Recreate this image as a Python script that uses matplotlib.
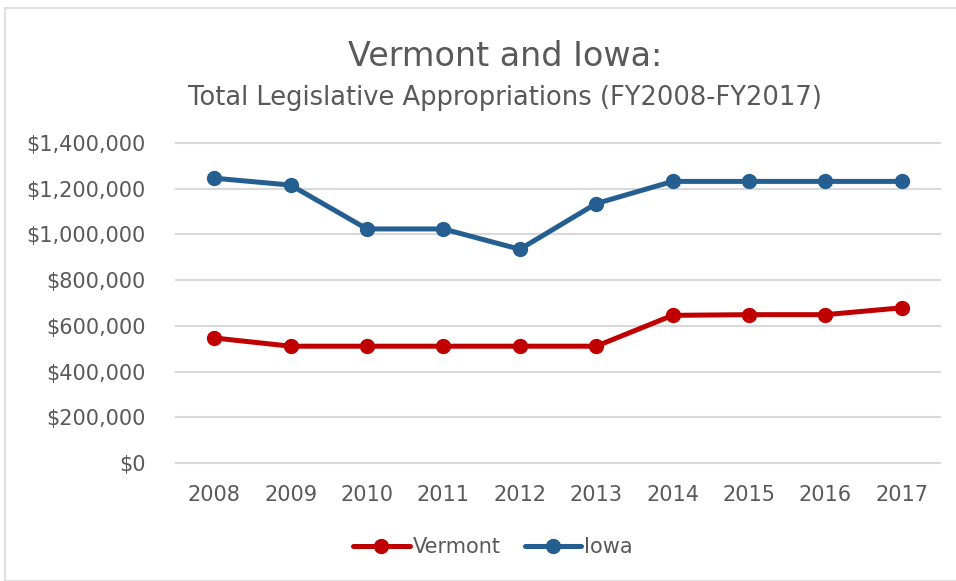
import matplotlib
matplotlib.use("Agg")
import matplotlib.pyplot as plt
from matplotlib.ticker import FuncFormatter
from matplotlib.patches import Rectangle

years = ["2008", "2009", "2010", "2011", "2012", "2013", "2014", "2015", "2016", "2017"]
vermont = [547000, 511000, 511000, 511000, 511000, 511000, 646000, 649000, 649000, 679000]
iowa = [1246000, 1216000, 1024000, 1024000, 935000, 1135000, 1232000, 1232000, 1232000, 1232000]

plt.rcParams['font.family'] = ['DejaVu Sans']
txt = '#595959'

fig = plt.figure(figsize=(9.56, 5.81), dpi=100)
fig.patches.append(Rectangle((5/956, 0), 1, 1 - 8/581, transform=fig.transFigure,
                             fill=False, edgecolor='#D9D9D9', linewidth=1.2))
ax = fig.add_axes([176/956, 1 - 463/581, 764/956, 320/581])

x = list(range(len(years)))
ax.plot(x, vermont, color='#C00000', lw=3.6, marker='o', ms=10, label='Vermont',
        solid_capstyle='round', zorder=3, clip_on=False)
ax.plot(x, iowa, color='#255E91', lw=3.6, marker='o', ms=10, label='Iowa',
        solid_capstyle='round', zorder=3, clip_on=False)

ax.set_xlim(-0.5, len(years) - 0.5)
ax.set_ylim(0, 1400000)
ax.set_yticks(range(0, 1400001, 200000))
ax.yaxis.set_major_formatter(FuncFormatter(lambda v, p: f"${int(v):,}"))
ax.set_xticks(x)
ax.set_xticklabels(years)
ax.grid(axis='y', color='#D9D9D9', lw=1.5)
for gl in ax.get_ygridlines():
    gl.set_clip_on(False)
ax.set_axisbelow(True)
for s in ax.spines.values():
    s.set_visible(False)
ax.tick_params(length=0, labelsize=15, colors=txt)
ax.tick_params(axis='x', pad=16)
ax.tick_params(axis='y', pad=22)

fig.text(505/956, 1 - 57/581, "Vermont and Iowa:", ha='center', va='center', fontsize=24, color=txt)
fig.text(505/956, 1 - 98/581, "Total Legislative Appropriations (FY2008-FY2017)", ha='center',
         va='center', fontsize=18.5, color=txt)

leg = fig.legend(loc='center', bbox_to_anchor=(493/956, 1 - 547/581), ncol=2, frameon=False,
                 fontsize=15, handlelength=2.7, handletextpad=0.15, columnspacing=1.15)
for t in leg.get_texts():
    t.set_color(txt)

fig.savefig("out.png", dpi=100)
